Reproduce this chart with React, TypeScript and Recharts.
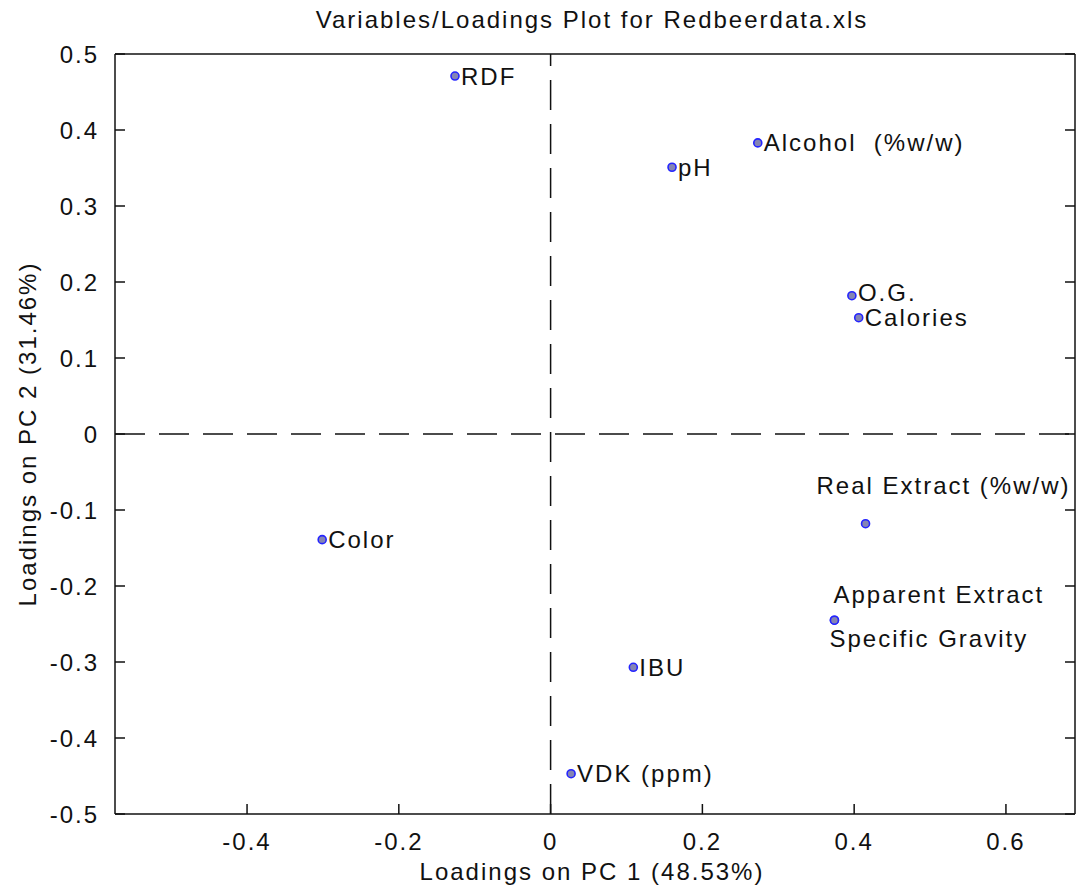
import React from 'react';
import {
  ScatterChart,
  Scatter,
  XAxis,
  YAxis,
  ReferenceLine,
} from 'recharts';

// variable names and their loadings on the first two principal components
const variables = [
  'RDF',
  'Alcohol  (%w/w)',
  'pH',
  'O.G.',
  'Calories',
  'Real Extract (%w/w)',
  'Apparent Extract',
  'Specific Gravity',
  'Color',
  'IBU',
  'VDK (ppm)',
];
const pc1 = [-0.126, 0.273, 0.160, 0.397, 0.406, 0.415, 0.374, 0.374, -0.301, 0.109, 0.027];
const pc2 = [0.471, 0.383, 0.351, 0.182, 0.153, -0.118, -0.245, -0.245, -0.139, -0.307, -0.447];

const xTicks = [-0.4, -0.2, 0, 0.2, 0.4, 0.6];
const yTicks = [-0.5, -0.4, -0.3, -0.2, -0.1, 0, 0.1, 0.2, 0.3, 0.4, 0.5];

const chartData = variables.map((name, i) => ({ name, x: pc1[i], y: pc2[i] }));

// where each text label sits relative to its marker
const labelPlacement: Record<string, { dx: number; dy: number; anchor: 'start' | 'middle' | 'end' }> = {
  'O.G.': { dx: 6, dy: -3, anchor: 'start' },
  'Real Extract (%w/w)': { dx: 205, dy: -38, anchor: 'end' },
  'Apparent Extract': { dx: -1, dy: -26, anchor: 'start' },
  'Specific Gravity': { dx: -5, dy: 18, anchor: 'start' },
};

const FONT = '"Liberation Sans", Arial, sans-serif';
const textStyle = { fontFamily: FONT, fontSize: 24, letterSpacing: 2, fill: '#111' };
const TICK_LEN = 10;

// plot box edges (chart size minus margins/axis sizes below)
const CHART_W = 1078;
const CHART_H = 894;
const PLOT_LEFT = 115;
const PLOT_TOP = 53;
const PLOT_BOTTOM_PAD = 80;
const PLOT_BOTTOM = CHART_H - PLOT_BOTTOM_PAD;

const fmt = (v: number) => String(Number(v.toFixed(1)));

const PointWithLabel = (props: any) => {
  const { cx, cy, payload } = props;
  const p = labelPlacement[payload.name] || { dx: 6, dy: 0, anchor: 'start' };
  return (
    <g>
      <circle cx={cx} cy={cy} r={4} fill="#8484b4" stroke="#2424ff" strokeWidth={1.6} />
      <text
        x={cx + p.dx}
        y={cy + p.dy}
        textAnchor={p.anchor}
        dominantBaseline="central"
        style={{ ...textStyle, whiteSpace: 'pre' }}
      >
        {payload.name}
      </text>
    </g>
  );
};

// ticks point into the box, MATLAB style; labels sit outside
const BottomTick = (props: any) => {
  const { x, payload } = props;
  return (
    <g>
      <line x1={x} x2={x} y1={PLOT_BOTTOM} y2={PLOT_BOTTOM - TICK_LEN} stroke="#111" strokeWidth={1.5} />
      <text x={x} y={PLOT_BOTTOM + 27} textAnchor="middle" dominantBaseline="central" style={textStyle}>
        {fmt(payload.value)}
      </text>
    </g>
  );
};

const LeftTick = (props: any) => {
  const { y, payload } = props;
  return (
    <g>
      <line x1={PLOT_LEFT} x2={PLOT_LEFT + TICK_LEN} y1={y} y2={y} stroke="#111" strokeWidth={1.5} />
      <text x={PLOT_LEFT - 16} y={y} textAnchor="end" dominantBaseline="central" style={textStyle}>
        {fmt(payload.value)}
      </text>
    </g>
  );
};

const TopTick = (props: any) => {
  const { x } = props;
  return <line x1={x} x2={x} y1={PLOT_TOP} y2={PLOT_TOP + TICK_LEN} stroke="#111" strokeWidth={1.5} />;
};

const RightTick = (props: any) => {
  const { y } = props;
  const right = CHART_W - 3;
  return <line x1={right} x2={right - TICK_LEN} y1={y} y2={y} stroke="#111" strokeWidth={1.5} />;
};

const axisLine = { stroke: '#111', strokeWidth: 1.5 };

export default function App() {
  return (
    <div style={{ position: 'absolute', left: 0, top: 0, width: CHART_W, height: CHART_H, background: '#fff' }}>
      <div
        style={{
          position: 'absolute',
          top: 6,
          left: 0,
          width: 1184,
          textAlign: 'center',
          fontFamily: FONT,
          fontSize: 24,
          letterSpacing: 2,
          color: '#111',
        }}
      >
        Variables/Loadings Plot for Redbeerdata.xls
      </div>
      <ScatterChart
        width={CHART_W}
        height={CHART_H}
        margin={{ top: PLOT_TOP, right: 2, bottom: 0, left: 0 }}
      >
        <XAxis
          xAxisId="b"
          type="number"
          dataKey="x"
          domain={[-0.574, 0.691]}
          ticks={xTicks}
          allowDataOverflow
          height={PLOT_BOTTOM_PAD}
          axisLine={axisLine}
          tickLine={false}
          tick={BottomTick}
        />
        <XAxis
          xAxisId="t"
          orientation="top"
          type="number"
          domain={[-0.574, 0.691]}
          ticks={xTicks}
          allowDataOverflow
          height={1}
          axisLine={axisLine}
          tickLine={false}
          tick={TopTick}
        />
        <YAxis
          yAxisId="l"
          type="number"
          dataKey="y"
          domain={[-0.5, 0.5]}
          ticks={yTicks}
          allowDataOverflow
          width={PLOT_LEFT}
          axisLine={axisLine}
          tickLine={false}
          tick={LeftTick}
        />
        <YAxis
          yAxisId="r"
          orientation="right"
          type="number"
          domain={[-0.5, 0.5]}
          ticks={yTicks}
          allowDataOverflow
          width={1}
          axisLine={axisLine}
          tickLine={false}
          tick={RightTick}
        />
        <ReferenceLine xAxisId="b" yAxisId="l" x={0} stroke="#111" strokeWidth={1.5} strokeDasharray="30 14" />
        <ReferenceLine xAxisId="b" yAxisId="l" y={0} stroke="#111" strokeWidth={1.5} strokeDasharray="30 14" />
        <Scatter
          xAxisId="b"
          yAxisId="l"
          data={chartData}
          shape={PointWithLabel}
          isAnimationActive={false}
        />
      </ScatterChart>
      <div
        style={{
          position: 'absolute',
          top: 858,
          left: 0,
          width: 1184,
          textAlign: 'center',
          fontFamily: FONT,
          fontSize: 24,
          letterSpacing: 2,
          color: '#111',
        }}
      >
        Loadings on PC 1 (48.53%)
      </div>
      <div
        style={{
          position: 'absolute',
          left: 28,
          top: 434,
          transform: 'translate(-50%, -50%) rotate(-90deg)',
          whiteSpace: 'nowrap',
          fontFamily: FONT,
          fontSize: 24,
          letterSpacing: 2,
          color: '#111',
        }}
      >
        Loadings on PC 2 (31.46%)
      </div>
    </div>
  );
}
